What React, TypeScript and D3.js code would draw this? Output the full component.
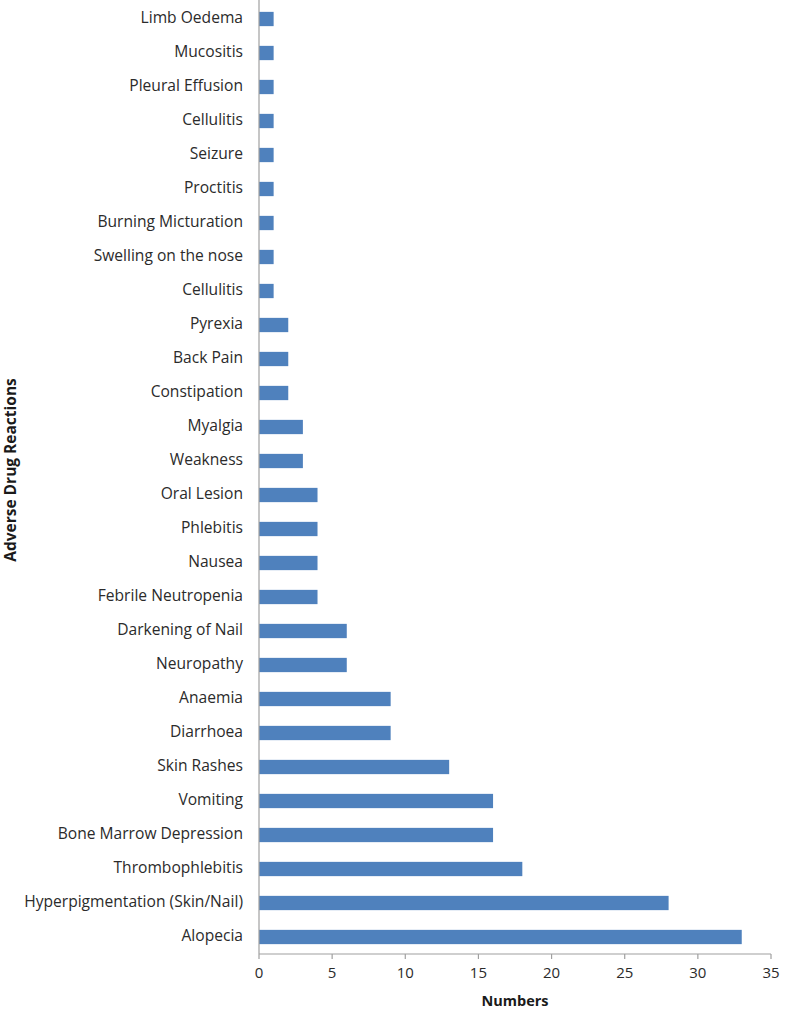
import { scaleBand, scaleLinear } from "d3";
import type { ReactElement } from "react";

// top to bottom, as in the picture
const reactions = [
  "Limb Oedema",
  "Mucositis",
  "Pleural Effusion",
  "Cellulitis",
  "Seizure",
  "Proctitis",
  "Burning Micturation",
  "Swelling on the nose",
  "Cellulitis",
  "Pyrexia",
  "Back Pain",
  "Constipation",
  "Myalgia",
  "Weakness",
  "Oral Lesion",
  "Phlebitis",
  "Nausea",
  "Febrile Neutropenia",
  "Darkening of Nail",
  "Neuropathy",
  "Anaemia",
  "Diarrhoea",
  "Skin Rashes",
  "Vomiting",
  "Bone Marrow Depression",
  "Thrombophlebitis",
  "Hyperpigmentation (Skin/Nail)",
  "Alopecia",
];

const counts = [1, 1, 1, 1, 1, 1, 1, 1, 1, 2, 2, 2, 3, 3, 4, 4, 4, 4, 6, 6, 9, 9, 13, 16, 16, 18, 28, 33];

const xTicks = [0, 5, 10, 15, 20, 25, 30, 35];

const width = 787;
const height = 1012;
const margin = { top: 2, right: 16, bottom: 58, left: 259 } as const;
const font = "'Open Sans', Lato, sans-serif";

export default function App(): ReactElement {
  const xScale = scaleLinear()
    .domain([0, 35])
    .range([margin.left, width - margin.right]);

  const yScale = scaleBand<number>()
    .domain(reactions.map((_, i) => i))
    .range([margin.top, height - margin.bottom])
    .paddingInner(0.58)
    .paddingOuter(0.29);

  const axisY = height - margin.bottom;

  return (
    <svg
      width={width}
      height={height}
      viewBox={`0 0 ${width} ${height}`}
      style={{ position: "absolute", left: 0, top: 0, background: "#fff" }}
      fontFamily={font}
    >
      <rect x={0} y={0} width={width} height={height} fill="#ffffff" />

      {reactions.map((name, i) => {
        const y = yScale(i) ?? 0;
        const bh = yScale.bandwidth();
        return (
          <g key={`bar-${i}`}>
            <rect
              x={xScale(0)}
              y={y}
              width={xScale(counts[i]) - xScale(0)}
              height={bh}
              fill="#4f81bd"
            />
            <text
              x={margin.left - 16}
              y={y + bh / 2}
              textAnchor="end"
              dominantBaseline="middle"
              fontSize={15.6}
              fill="#2b2b2b"
            >
              {name}
            </text>
          </g>
        );
      })}

      <line x1={xScale(0)} x2={xScale(0)} y1={0} y2={axisY} stroke="#a0a0a0" strokeWidth={1.2} />
      <line x1={xScale(0)} x2={xScale(35)} y1={axisY} y2={axisY} stroke="#a0a0a0" strokeWidth={1.2} />

      {xTicks.map((tick) => {
        const x = xScale(tick);
        return (
          <g key={`x-${tick}`}>
            <line x1={x} x2={x} y1={axisY} y2={axisY + 5} stroke="#a0a0a0" strokeWidth={1.2} />
            <text x={x} y={axisY + 20} textAnchor="middle" dominantBaseline="middle" fontSize={15} fill="#2b2b2b">
              {tick}
            </text>
          </g>
        );
      })}

      <text
        x={(xScale(0) + xScale(35)) / 2}
        y={axisY + 48}
        textAnchor="middle"
        dominantBaseline="middle"
        fontSize={14.5}
        fontWeight="bold"
        fill="#1a1a1a"
      >
        Numbers
      </text>

      <text
        transform={`translate(12, ${(margin.top + axisY) / 2 - 8}) rotate(-90)`}
        textAnchor="middle"
        dominantBaseline="middle"
        fontSize={15.5}
        fontWeight="bold"
        fill="#1a1a1a"
      >
        Adverse Drug Reactions
      </text>
    </svg>
  );
}
